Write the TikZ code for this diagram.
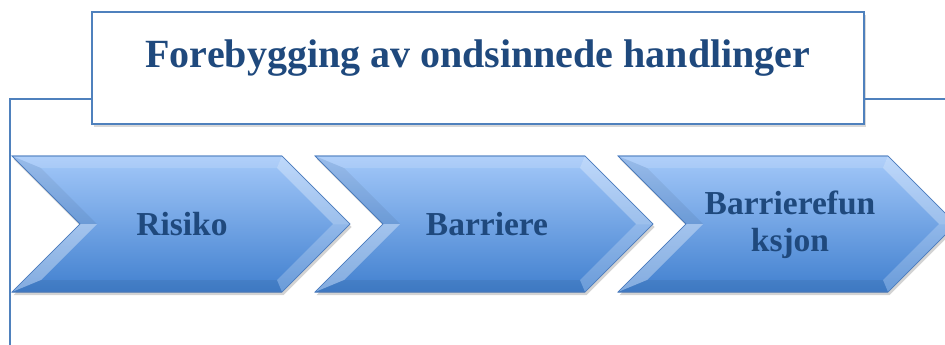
\documentclass[tikz,border=0pt]{standalone}
\usepackage{fontspec}
\setmainfont{Liberation Serif}
\usetikzlibrary{calc,shadows}
\definecolor{framecol}{HTML}{4F81BD}
\definecolor{textcol}{HTML}{1F497D}
\definecolor{chevtop}{HTML}{A3C8F9}
\definecolor{chevbot}{HTML}{4180CF}
\definecolor{chevedge}{HTML}{4A7CC0}
\tikzset{
  chevlabel/.style={text=textcol,font=\bfseries\fontsize{33.5}{37}\selectfont,align=center},
  chevshade/.style={top color=chevtop,bottom color=chevbot,draw=chevedge,line width=.6pt,
    drop shadow={opacity=.35,shadow xshift=1.5pt,shadow yshift=-3pt}}
}
\begin{document}
\begin{tikzpicture}[x=1pt,y=-1pt]
    \useasboundingbox(0,0)rectangle(945,345);
    \clip(0,0)rectangle(945,345);
    % title box and frame
    \node[draw=framecol,line width=2pt,fill=white,minimum width=772pt,minimum height=112pt,
      drop shadow={opacity=.3,shadow xshift=2pt,shadow yshift=-3pt},inner sep=0pt]
      (title)at(478,68){};
    \node[text=textcol,font=\bfseries\fontsize{40}{46}\selectfont](titletext)at(478,58)
      {Forebygging av ondsinnede handlinger};
    \draw[framecol,line width=1.3pt]([yshift=-31pt]title.west)-|(10,345);
    \draw[framecol,line width=1.3pt]([yshift=-31pt]title.east)--(945,99);
    % chevrons
    \foreach \x/\name in {12/risiko,315/barriere,618/funksjon}{
      \begin{scope}[shift={(\x,0)}]
        \coordinate(\name-a)at(0,156);   \coordinate(\name-b)at(270,156);
        \coordinate(\name-c)at(338,224); \coordinate(\name-d)at(270,292);
        \coordinate(\name-e)at(0,292);   \coordinate(\name-f)at(68,224);
        \coordinate(\name-ia)at(29,168);  \coordinate(\name-ib)at(265,168);
        \coordinate(\name-ic)at(321,224); \coordinate(\name-id)at(265,280);
        \coordinate(\name-ie)at(29,280);  \coordinate(\name-if)at(85,224);
        \fill[chevshade](\name-a)--(\name-b)--(\name-c)--(\name-d)--(\name-e)--(\name-f)--cycle;
        % bevel facets
        \fill[white,opacity=.15](\name-a)--(\name-b)--(\name-ib)--(\name-ia)--cycle;
        \fill[black,opacity=.06](\name-a)--(\name-ia)--(\name-if)--(\name-f)--cycle;
        \fill[white,opacity=.35](\name-f)--(\name-if)--(\name-ie)--(\name-e)--cycle;
        \fill[white,opacity=.30](\name-b)--(\name-c)--(\name-ic)--(\name-ib)--cycle;
        \fill[white,opacity=.22](\name-c)--(\name-d)--(\name-id)--(\name-ic)--cycle;
        \fill[black,opacity=.06](\name-e)--(\name-d)--(\name-id)--(\name-ie)--cycle;
        \draw[chevedge,line width=.6pt](\name-a)--(\name-b)--(\name-c)--(\name-d)--(\name-e)--(\name-f)--cycle;
      \end{scope}
    }
    \node[chevlabel](risikotext)at(182,224){Risiko};
    \node[chevlabel](barrieretext)at(487,224){Barriere};
    \node[chevlabel](funksjontext)at(790,225){Barrierefun\\ksjon};
  \end{tikzpicture}
\end{document}
